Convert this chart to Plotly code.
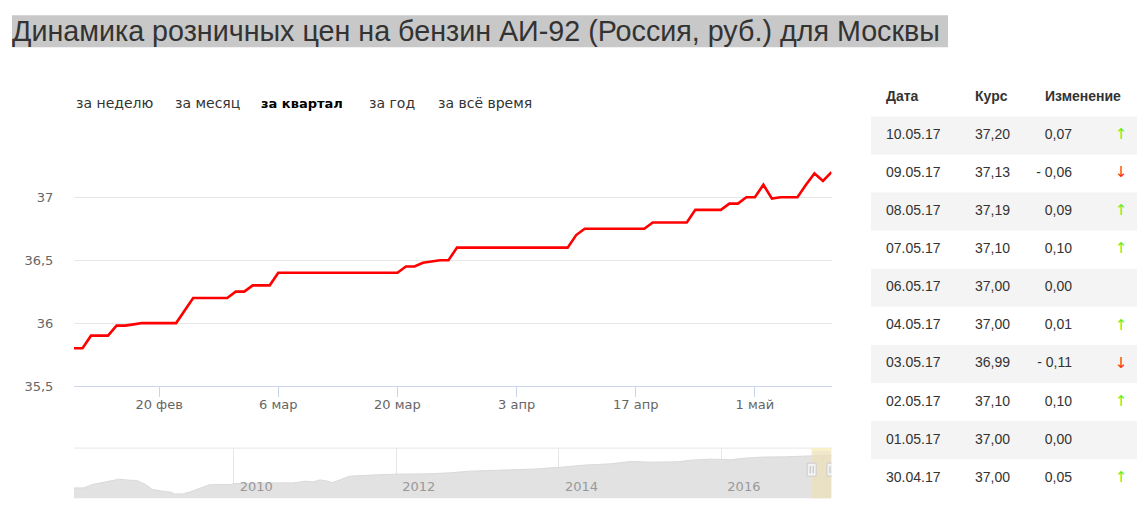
import plotly.graph_objects as go

# ---------------- data ----------------
dates = [
    "2017-02-10", "2017-02-11", "2017-02-12", "2017-02-13", "2017-02-14", "2017-02-15",
    "2017-02-16", "2017-02-17", "2017-02-18", "2017-02-19", "2017-02-20", "2017-02-21",
    "2017-02-22", "2017-02-24", "2017-02-25", "2017-02-26", "2017-02-27", "2017-02-28",
    "2017-03-01", "2017-03-02", "2017-03-03", "2017-03-04", "2017-03-05", "2017-03-06",
    "2017-03-07", "2017-03-08", "2017-03-09", "2017-03-10", "2017-03-11", "2017-03-12",
    "2017-03-13", "2017-03-14", "2017-03-15", "2017-03-16", "2017-03-17", "2017-03-18",
    "2017-03-19", "2017-03-20", "2017-03-21", "2017-03-22", "2017-03-23", "2017-03-24",
    "2017-03-25", "2017-03-26", "2017-03-27", "2017-03-28", "2017-03-29", "2017-03-30",
    "2017-03-31", "2017-04-01", "2017-04-02", "2017-04-03", "2017-04-04", "2017-04-05",
    "2017-04-06", "2017-04-07", "2017-04-08", "2017-04-09", "2017-04-10", "2017-04-11",
    "2017-04-12", "2017-04-13", "2017-04-14", "2017-04-15", "2017-04-16", "2017-04-17",
    "2017-04-18", "2017-04-19", "2017-04-20", "2017-04-21", "2017-04-22", "2017-04-23",
    "2017-04-24", "2017-04-25", "2017-04-26", "2017-04-27", "2017-04-28", "2017-04-29",
    "2017-04-30", "2017-05-01", "2017-05-02", "2017-05-03", "2017-05-04", "2017-05-06",
    "2017-05-07", "2017-05-08", "2017-05-09", "2017-05-10",
]
prices = [
    35.80, 35.80, 35.90, 35.90, 35.90, 35.98,
    35.98, 35.99, 36.00, 36.00, 36.00, 36.00,
    36.00, 36.20, 36.20, 36.20, 36.20, 36.20,
    36.25, 36.25, 36.30, 36.30, 36.30, 36.40,
    36.40, 36.40, 36.40, 36.40, 36.40, 36.40,
    36.40, 36.40, 36.40, 36.40, 36.40, 36.40,
    36.40, 36.40, 36.45, 36.45, 36.48, 36.49,
    36.50, 36.50, 36.60, 36.60, 36.60, 36.60,
    36.60, 36.60, 36.60, 36.60, 36.60, 36.60,
    36.60, 36.60, 36.60, 36.60, 36.70, 36.75,
    36.75, 36.75, 36.75, 36.75, 36.75, 36.75,
    36.75, 36.80, 36.80, 36.80, 36.80, 36.80,
    36.90, 36.90, 36.90, 36.90, 36.95, 36.95,
    37.00, 37.00, 37.10, 36.99, 37.00, 37.00,
    37.10, 37.19, 37.13, 37.20,
]

y_tick_values = [35.5, 36.0, 36.5, 37.0, 37.5]
y_tick_labels = ["35,5", "36", "36,5", "37", ""]
x_tick_values = ["2017-02-20", "2017-03-06", "2017-03-20", "2017-04-03", "2017-04-17", "2017-05-01"]
x_tick_labels = ["20 фев", "6 мар", "20 мар", "3 апр", "17 апр", "1 май"]

nav_dates = [
    "2008-01-14", "2008-02-28", "2008-04-05", "2008-05-20", "2008-06-28", "2008-08-05",
    "2008-09-15", "2008-10-22", "2008-12-01", "2009-01-01", "2009-02-15", "2009-03-25",
    "2009-04-10", "2009-05-15", "2009-06-15", "2009-08-01", "2009-09-12", "2009-10-27",
    "2009-12-15", "2010-01-05", "2010-02-25", "2010-06-25", "2010-09-25", "2010-11-22",
    "2010-12-25", "2011-01-22", "2011-02-20", "2011-03-20", "2011-04-20", "2011-06-05",
    "2011-10-05", "2012-01-01", "2012-05-18", "2012-08-28", "2012-11-28", "2013-05-25",
    "2013-10-08", "2013-11-25", "2014-01-01", "2014-04-22", "2014-08-22", "2014-11-20",
    "2015-02-18", "2015-06-18", "2015-08-18", "2015-11-15", "2016-01-01", "2016-02-15",
    "2016-03-28", "2016-06-28", "2016-10-12", "2017-02-10", "2017-05-10",
]
nav_values = [
    20.85, 20.85, 22.55, 23.55, 24.55, 25.20,
    24.70, 24.55, 22.55, 20.05, 19.20, 18.70,
    17.85, 17.85, 18.70, 20.55, 22.35, 22.55,
    22.55, 23.05, 23.20, 23.35, 23.35, 24.20,
    23.85, 24.85, 24.35, 23.55, 24.70, 26.70,
    27.35, 27.70, 27.85, 28.35, 29.20, 29.70,
    30.35, 30.85, 31.05, 32.20, 32.85, 34.05,
    33.70, 33.85, 34.70, 35.20, 35.05, 34.85,
    35.55, 36.20, 36.35, 36.85, 37.20,
]

period_buttons = ["за неделю", "за месяц", "за квартал", "за год", "за всё время"]
active_button = "за квартал"

table_header = ["Дата", "Курс", "Изменение"]
table_dates = ["10.05.17", "09.05.17", "08.05.17", "07.05.17", "06.05.17",
               "04.05.17", "03.05.17", "02.05.17", "01.05.17", "30.04.17"]
table_rates = [37.20, 37.13, 37.19, 37.10, 37.00, 37.00, 36.99, 37.10, 37.00, 37.00]
table_changes = [0.07, -0.06, 0.09, 0.10, 0.00, 0.01, -0.11, 0.10, 0.00, 0.05]

title_text = "Динамика розничных цен на бензин АИ-92 (Россия, руб.) для Москвы"

# ---------------- layout helpers ----------------
# page body keeps an 8px margin, so the figure is 1129x505 inside a 1145x521 window
OFF = 8
W, H = 1145 - 2 * OFF, 521 - 2 * OFF
SY = 0.982  # observed vertical scale of the rendered page
def fx(px):
    return min(max((px - OFF) / W, 0.0), 1.0)
def fy(py):
    return min(max(1 - (py / SY - OFF) / H, 0.0), 1.0)

AX_FONT = "DejaVu Sans, Verdana, sans-serif"
TBL_FONT = "Liberation Sans, Arial, sans-serif"

def fmt(v):
    s = f"{abs(v):.2f}".replace(".", ",")
    return ("- " + s) if v < 0 else s

fig = go.Figure()

# main line
fig.add_trace(go.Scatter(
    x=dates, y=prices, mode="lines",
    line=dict(color="#ff0000", width=2.6),
    xaxis="x", yaxis="y", hoverinfo="skip",
))

# navigator area
fig.add_trace(go.Scatter(
    x=nav_dates, y=nav_values, mode="lines", fill="tozeroy",
    fillcolor="#e2e2e2", line=dict(color="#d9d9d9", width=1),
    xaxis="x2", yaxis="y2", hoverinfo="skip",
))

# table (x axis in pixel units from the table's left edge at 871px)
TL = 871
TW = (OFF + W) - TL
rows = list(range(len(table_dates)))
band_rows = [r for r in rows if r % 2 == 0]
fig.add_trace(go.Bar(
    y=band_rows, x=[TW] * len(band_rows), base=0, orientation="h", width=1,
    marker=dict(color="#f4f4f4", line=dict(width=0)),
    xaxis="x3", yaxis="y3", hoverinfo="skip",
))

TX = dict(family=TBL_FONT, size=14, color="#333333")
# header
fig.add_trace(go.Scatter(
    x=[15, 104, 174], y=[-1, -1, -1], mode="text",
    text=[f"<b>{h}</b>" for h in table_header], textposition="middle right",
    textfont=TX, xaxis="x3", yaxis="y3", hoverinfo="skip",
))
# date column
fig.add_trace(go.Scatter(
    x=[15] * len(rows), y=rows, mode="text", text=table_dates,
    textposition="middle right", textfont=TX,
    xaxis="x3", yaxis="y3", hoverinfo="skip",
))
# rate column
fig.add_trace(go.Scatter(
    x=[104] * len(rows), y=rows, mode="text",
    text=[fmt(v) for v in table_rates], textposition="middle right",
    textfont=TX, xaxis="x3", yaxis="y3", hoverinfo="skip",
))
# change column
fig.add_trace(go.Scatter(
    x=[201] * len(rows), y=rows, mode="text",
    text=[fmt(v) for v in table_changes], textposition="middle left",
    textfont=TX, xaxis="x3", yaxis="y3", hoverinfo="skip",
))
# arrows
arrow_txt = ["↑" if c > 0 else ("↓" if c < 0 else "") for c in table_changes]
arrow_col = ["#66ee22" if c > 0 else "#ff3311" for c in table_changes]
fig.add_trace(go.Scatter(
    x=[250] * len(rows), y=rows, mode="text", text=arrow_txt,
    textposition="middle center",
    textfont=dict(family=AX_FONT, size=15, color=arrow_col),
    xaxis="x3", yaxis="y3", hoverinfo="skip",
))

annotations = []
# title
annotations.append(dict(
    text=title_text, xref="paper", yref="paper", x=fx(10), y=fy(31),
    xanchor="left", yanchor="middle", showarrow=False,
    font=dict(family="Liberation Sans, Arial, sans-serif", size=28.7, color="#333333"),
))
# period buttons
btn_x = [74, 173, 259, 367, 436]
for label, bx in zip(period_buttons, btn_x):
    bold = label == active_button
    annotations.append(dict(
        text=f"<b>{label}</b>" if bold else label,
        xref="paper", yref="paper", x=fx(bx), y=fy(103),
        xanchor="left", yanchor="middle", showarrow=False,
        font=dict(family=AX_FONT, size=13 if bold else 14,
                  color="#000000" if bold else "#333333"),
    ))

PL, PR = 74, 831.5
shapes = [
    # title highlight
    dict(type="rect", xref="paper", yref="paper", x0=fx(12), x1=fx(948),
         y0=fy(47), y1=fy(15), fillcolor="#c8c8c8", line=dict(width=0), layer="below"),
    # navigator top border
    dict(type="line", xref="paper", yref="paper", x0=fx(PL), x1=fx(PR),
         y0=fy(447), y1=fy(447), line=dict(color="#e6e6e6", width=1)),
    # navigator selection
    dict(type="rect", xref="x2", yref="paper", x0=dates[0], x1=dates[-1],
         y0=fy(497), y1=fy(447), fillcolor="rgba(236,224,186,0.75)",
         line=dict(width=0), layer="above"),
    dict(type="rect", xref="x2", yref="paper", x0=dates[0], x1=dates[-1],
         y0=fy(450), y1=fy(447), fillcolor="rgba(250,240,200,0.9)",
         line=dict(width=0), layer="above"),
]
for d in (dates[0], dates[-1]):
    shapes.append(dict(type="rect", xref="x2", yref="paper", xsizemode="pixel",
                       xanchor=d, x0=-4.5, x1=4.5, y0=fy(475), y1=fy(462),
                       fillcolor="#f2f2f2", line=dict(color="#cccccc", width=1),
                       layer="above"))
    for off in (-1.5, 1.5):
        shapes.append(dict(type="line", xref="x2", yref="paper", xsizemode="pixel",
                           xanchor=d, x0=off, x1=off, y0=fy(472), y1=fy(465),
                           line=dict(color="#bbbbbb", width=1), layer="above"))

fig.update_layout(
    width=W, height=H, margin=dict(l=0, r=0, t=0, b=0),
    paper_bgcolor="white", plot_bgcolor="rgba(0,0,0,0)",
    showlegend=False, hovermode=False, separators=", ",
    annotations=annotations, shapes=shapes,
    xaxis=dict(
        domain=[fx(PL), fx(PR)], anchor="y", type="date",
        range=[dates[0], dates[-1]],
        tickvals=x_tick_values, ticktext=x_tick_labels,
        ticks="outside", ticklen=10, tickcolor="#ccd6eb",
        ticklabelstandoff=-4,
        showline=True, linecolor="#ccd6eb", linewidth=1,
        showgrid=False, zeroline=False, fixedrange=True,
        tickfont=dict(family=AX_FONT, size=13, color="#666666"),
    ),
    yaxis=dict(
        domain=[fy(385), fy(134)], anchor="x",
        range=[35.5, 37.5], tickvals=y_tick_values, ticktext=y_tick_labels,
        gridcolor="#e6e6e6", gridwidth=1, zeroline=False, showline=False,
        ticks="outside", ticklen=17, tickcolor="rgba(0,0,0,0)", fixedrange=True,
        tickfont=dict(family=AX_FONT, size=13, color="#666666"),
    ),
    xaxis2=dict(
        domain=[fx(PL), fx(PR)], anchor="y2", type="date",
        range=[nav_dates[0], nav_dates[-1]],
        dtick="M24", tick0="2010-01-01", tickformat="%Y",
        ticklabelposition="inside right", ticks="",
        ticklabelstandoff=-1, ticklabelshift=6,
        showgrid=True, gridcolor="#e6e6e6", zeroline=False, showline=False,
        tickfont=dict(family=AX_FONT, size=13, color="#999999"), fixedrange=True,
    ),
    yaxis2=dict(domain=[fy(497), fy(447)], anchor="x2", range=[15.7, 40.7],
                visible=False, fixedrange=True),
    xaxis3=dict(domain=[fx(TL), 1.0], anchor="y3", range=[0, TW],
                visible=False, fixedrange=True),
    yaxis3=dict(domain=[fy(496), fy(78)], anchor="x3", range=[9.5, -1.5],
                visible=False, fixedrange=True),
)

fig.write_html("out.html", config={"displayModeBar": False})
